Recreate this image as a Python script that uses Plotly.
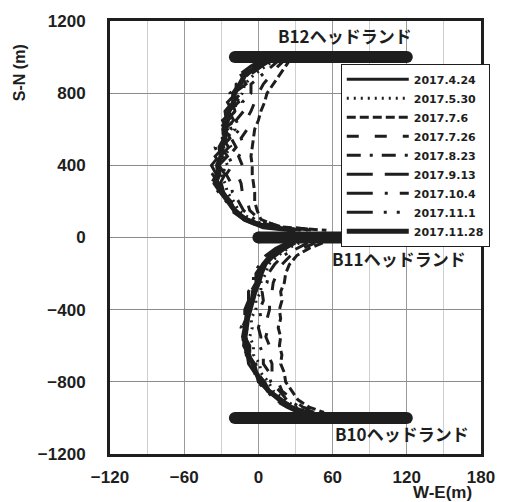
import plotly.graph_objects as go

# ---------------- data ----------------
dates = ["2017.4.24", "2017.5.30", "2017.7.6", "2017.7.26", "2017.8.23",
         "2017.9.13", "2017.10.4", "2017.11.1", "2017.11.28"]

y_north = [990, 950, 900, 850, 800, 750, 700, 650, 600, 550, 500, 450, 400,
           350, 300, 250, 200, 150, 100, 60, 40]
y_south = [-30, -60, -100, -150, -200, -250, -300, -350, -400, -450, -500,
           -550, -600, -650, -700, -750, -800, -850, -900, -940, -970]

x_north_0424 = [10, 0, -14, -10, -20, -16, -24, -20, -27, -23, -30, -25, -32, -27, -31, -29, -22, -20, -8, 6, 34]
x_north_0530 = [14, 6, -4, -11, -13, -18, -19, -24, -19, -26, -22, -28, -25, -30, -27, -25, -20, -16, -6, 10, 40]
x_north_0706 = [26, 22, 17, 12, 7, 5, 2, 0, -3, -4, -5, -6, -5, -5, -4, -3, -3, -1, 2, 16, 55]
x_north_0726 = [22, 16, 10, 4, 0, -3, -6, -10, -9, -14, -11, -16, -13, -17, -14, -13, -9, -7, 1, 18, 52]
x_north_0823 = [18, 11, 3, -6, -6, -13, -12, -18, -15, -22, -18, -24, -21, -26, -22, -21, -16, -12, -3, 12, 46]
x_north_0913 = [6, -3, -9, -18, -18, -25, -21, -29, -25, -32, -28, -35, -30, -37, -32, -30, -25, -20, -10, 3, 28]
x_north_1004 = [12, 3, -7, -14, -14, -21, -19, -25, -22, -29, -24, -31, -28, -33, -30, -28, -23, -19, -9, 8, 38]
x_north_1101 = [4, -6, -16, -15, -23, -21, -27, -26, -31, -29, -35, -32, -38, -34, -38, -32, -26, -22, -12, 1, 24]
x_north_1128 = [8, -1, -11, -15, -20, -20, -24, -25, -28, -27, -31, -30, -33, -32, -35, -30, -25, -19, -11, 4, 30]

x_south_0424 = [28, 19, 13, 6, 3, 1, -2, -4, -6, -8, -9, -10, -9, -7, -5, -2, 2, 8, 16, 25, 34]
x_south_0530 = [33, 24, 16, 8, 6, 2, 2, -2, -2, -6, -5, -7, -4, -4, 1, 2, 8, 12, 22, 30, 43]
x_south_0706 = [52, 41, 31, 25, 22, 21, 18, 19, 17, 18, 16, 18, 17, 19, 18, 21, 22, 27, 32, 41, 53]
x_south_0726 = [46, 36, 26, 19, 15, 12, 11, 9, 9, 7, 8, 6, 9, 8, 11, 11, 16, 19, 28, 36, 49]
x_south_0823 = [40, 31, 20, 13, 8, 7, 3, 4, 1, 2, 0, 2, 1, 4, 4, 9, 10, 17, 23, 34, 45]
x_south_0913 = [25, 17, 7, 3, -2, -2, -6, -6, -10, -10, -13, -11, -12, -8, -7, -2, 0, 8, 14, 25, 36]
x_south_1004 = [30, 22, 14, 5, 3, -1, -2, -6, -6, -10, -9, -11, -7, -7, -2, -1, 5, 9, 19, 28, 40]
x_south_1101 = [23, 14, 6, 1, -4, -4, -8, -8, -11, -11, -14, -12, -13, -9, -8, -3, -1, 7, 13, 23, 32]
x_south_1128 = [27, 18, 10, 4, 0, 0, -4, -5, -8, -9, -11, -12, -10, -9, -4, -2, 3, 8, 18, 26, 38]

headland_names = ["B12ヘッドランド", "B11ヘッドランド", "B10ヘッドランド"]
headland_x0 = [-19, 0, -19]
headland_x1 = [120, 131, 120]
headland_y = [1000, 0, -1000]
label_x = [70, 114, 116]
label_y = [1117, -119, -1088]

x_ticks = [-120, -60, 0, 60, 120, 180]
y_ticks = [-1200, -800, -400, 0, 400, 800, 1200]

# ---------------- styles ----------------
north = [x_north_0424, x_north_0530, x_north_0706, x_north_0726, x_north_0823,
         x_north_0913, x_north_1004, x_north_1101, x_north_1128]
south = [x_south_0424, x_south_0530, x_south_0706, x_south_0726, x_south_0823,
         x_south_0913, x_south_1004, x_south_1101, x_south_1128]
dash_styles = ["solid", "2px,5px", "9px,4px", "12px,16px", "14px,9px,3px,9px",
               "26px,12px", "26px,12px,3px,12px", "26px,11px,3px,10px,3px,11px", "solid"]
widths = [3, 3, 3, 3, 3, 3, 3, 3, 5]
INK = "#1e1e1e"

fig = go.Figure()
for name, xn, xs, d, w in zip(dates, north, south, dash_styles, widths):
    fig.add_trace(go.Scatter(
        x=xn + [None] + xs, y=y_north + [None] + y_south,
        mode="lines", name=name,
        line=dict(color=INK, width=w, dash=d),
    ))

for x0, x1, hy in zip(headland_x0, headland_x1, headland_y):
    fig.add_trace(go.Scatter(
        x=[x0, x1], y=[hy, hy], mode="lines+markers", showlegend=False,
        line=dict(color=INK, width=12),
        marker=dict(color=INK, size=12),
    ))

for txt, lx, ly in zip(headland_names, label_x, label_y):
    fig.add_annotation(x=lx, y=ly, text=txt, showarrow=False,
                       xanchor="center", yanchor="middle",
                       font=dict(family="Noto Sans CJK JP", size=17, color=INK, weight="bold"))

fig.add_annotation(xref="paper", yref="paper", x=-0.242, y=0.88, text="S-N (m)",
                   textangle=-90, showarrow=False, xanchor="center", yanchor="middle",
                   font=dict(family="Liberation Sans", size=16, color=INK, weight="bold"))
fig.add_annotation(xref="paper", yref="paper", x=0.895, y=-0.089, text="W-E(m)",
                   showarrow=False, xanchor="center", yanchor="middle",
                   font=dict(family="Liberation Sans", size=17, color=INK, weight="bold"))

tickfont = dict(family="Liberation Sans", size=17, color=INK, weight="bold")
fig.update_xaxes(range=[-120, 180], tickvals=x_ticks, showgrid=True, gridcolor="#9a9a9a",
                 gridwidth=1, minor=dict(dtick=30, showgrid=True, gridcolor="#cfcfcf", gridwidth=1),
                 showline=True, linecolor=INK, linewidth=3, mirror=True, zeroline=False,
                 ticks="", tickfont=tickfont, ticklabelstandoff=6)
fig.update_yaxes(range=[-1200, 1200], tickvals=y_ticks, showgrid=True, gridcolor="#8c8c8c",
                 gridwidth=1, showline=True, linecolor=INK, linewidth=3, mirror=True,
                 zeroline=False, ticks="", tickfont=tickfont, ticklabelstandoff=18)

fig.update_layout(
    width=507, height=502,
    margin=dict(l=110, r=17, t=20, b=48),
    plot_bgcolor="white", paper_bgcolor="white",
    legend=dict(x=0.622, y=0.901, xanchor="left", yanchor="top",
                bgcolor="white", bordercolor=INK, borderwidth=1,
                font=dict(family="DejaVu Sans", size=11, color=INK, weight="bold"),
                itemwidth=62, tracegroupgap=0),
)

# remove the page's default 8px body margin so the figure fills the window exactly
fig.write_html("out.html", config={"displayModeBar": False},
               post_script="document.body.style.margin='0';document.body.style.overflow='hidden';")
